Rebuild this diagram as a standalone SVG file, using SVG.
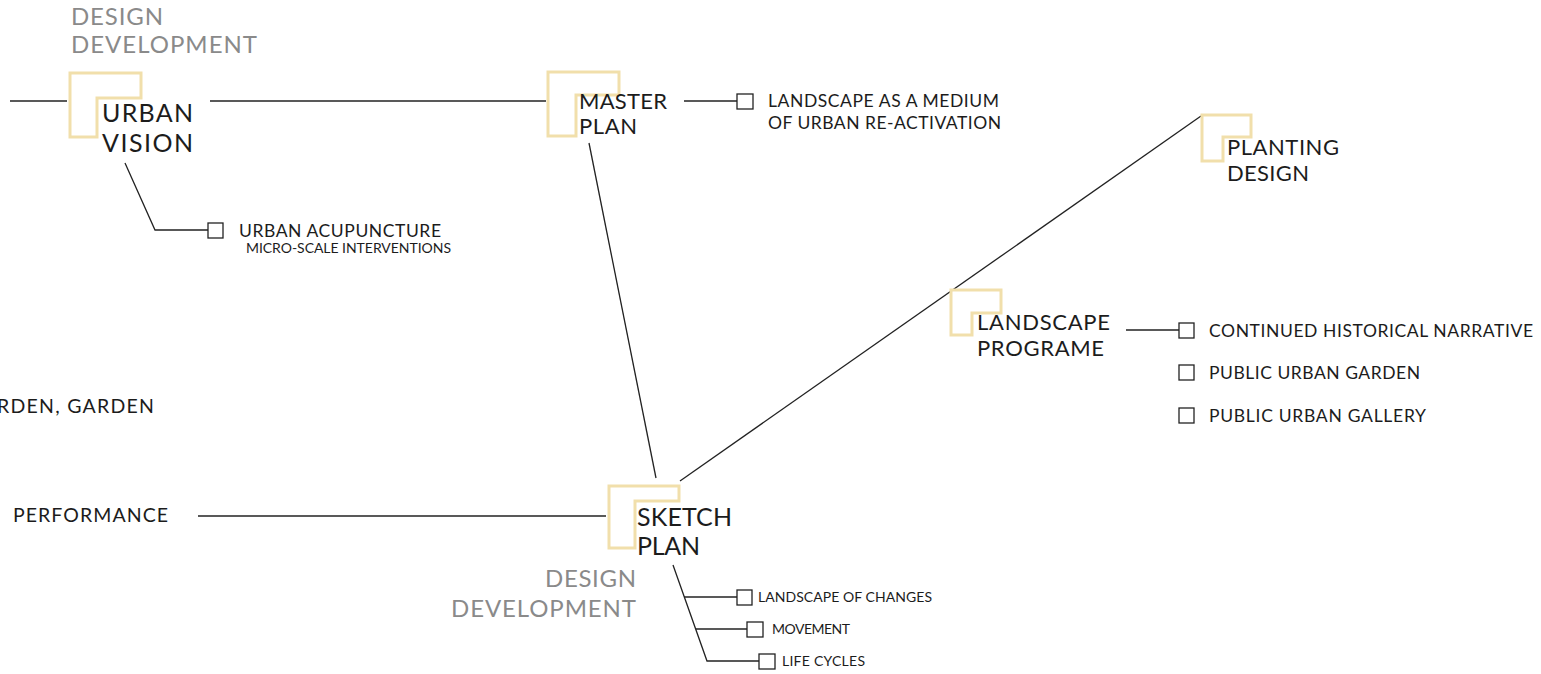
<svg xmlns="http://www.w3.org/2000/svg" width="1541" height="674" viewBox="0 0 1541 674">
  <style>
    .bg { fill: #ffffff; }
    .bracket { fill: none; stroke: #f1dfab; stroke-width: 3; stroke-linejoin: miter; }
    .wire { fill: none; stroke: #222222; stroke-width: 1.3; }
    .box { fill: #ffffff; stroke: #222222; stroke-width: 1.3; }
    text { font-family: Lato, "Open Sans", "Liberation Sans", sans-serif; font-weight: 400; fill: #1c1c1c; }
    .title { font-size: 25px; }
    .title-s { font-size: 22px; }
    .phase { font-size: 24px; fill: #8a8a8a; }
    .item { font-size: 17.5px; }
    .item-l { font-size: 19.5px; }
    .item-s { font-size: 14px; }
  </style>

  <rect class="bg" x="0" y="0" width="1541" height="674"/>

  <!-- connectors -->
  <g id="connectors">
    <line class="wire" x1="10" y1="101" x2="67" y2="101"/>
    <line class="wire" x1="210" y1="101" x2="546" y2="101"/>
    <line class="wire" x1="684" y1="101" x2="737" y2="101"/>
    <polyline class="wire" points="125,163 155,230 208,230"/>
    <line class="wire" x1="589" y1="143" x2="656" y2="478"/>
    <line class="wire" x1="680" y1="481" x2="1201" y2="116"/>
    <line class="wire" x1="1126" y1="330" x2="1179" y2="330"/>
    <line class="wire" x1="198" y1="516" x2="606" y2="516"/>
    <polyline class="wire" points="673,565 707,661 759,661"/>
    <line class="wire" x1="684" y1="597" x2="737" y2="597"/>
    <line class="wire" x1="696" y1="629" x2="747" y2="629"/>
  </g>

  <!-- phase labels -->
  <g id="phase-top">
    <text class="phase" x="71" y="25" textLength="92">DESIGN</text>
    <text class="phase" x="71" y="53" textLength="186">DEVELOPMENT</text>
  </g>
  <g id="phase-bottom">
    <text class="phase" x="545" y="587" textLength="91">DESIGN</text>
    <text class="phase" x="451" y="617" textLength="185">DEVELOPMENT</text>
  </g>

  <!-- urban vision -->
  <g id="urban-vision">
    <path class="bracket" d="M70 73 H141 V98 H97 V137 H70 Z"/>
    <text class="title" x="102" y="122" textLength="91">URBAN</text>
    <text class="title" x="102" y="152" textLength="91">VISION</text>
  </g>

  <g id="urban-acupuncture">
    <rect class="box" x="208" y="223" width="15" height="15"/>
    <text class="item" x="239" y="237" textLength="202">URBAN ACUPUNCTURE</text>
    <text class="item-s" x="246" y="253" textLength="205">MICRO-SCALE INTERVENTIONS</text>
  </g>

  <!-- master plan -->
  <g id="master-plan">
    <path class="bracket" d="M548 72 H619 V95 H576 V136 H548 Z"/>
    <text class="title-s" x="579" y="109" textLength="88">MASTER</text>
    <text class="title-s" x="579" y="134" textLength="58">PLAN</text>
  </g>

  <g id="landscape-medium">
    <rect class="box" x="737" y="94" width="16" height="15"/>
    <text class="item" x="768" y="107" textLength="231">LANDSCAPE AS A MEDIUM</text>
    <text class="item" x="768" y="129" textLength="233">OF URBAN RE-ACTIVATION</text>
  </g>

  <!-- planting design -->
  <g id="planting-design">
    <path class="bracket" d="M1202 115 H1251 V137 H1223 V161 H1202 Z"/>
    <text class="title-s" x="1227" y="155" textLength="112">PLANTING</text>
    <text class="title-s" x="1227" y="181" textLength="82">DESIGN</text>
  </g>

  <!-- landscape programe -->
  <g id="landscape-programe">
    <path class="bracket" d="M951 290 H1001 V313 H972 V335 H951 Z"/>
    <text class="title-s" x="977" y="330" textLength="133">LANDSCAPE</text>
    <text class="title-s" x="977" y="356" textLength="127">PROGRAME</text>
  </g>

  <g id="programe-items">
    <rect class="box" x="1179" y="323" width="15" height="15"/>
    <text class="item" x="1209" y="337" textLength="324">CONTINUED HISTORICAL NARRATIVE</text>
    <rect class="box" x="1179" y="365" width="15" height="15"/>
    <text class="item" x="1209" y="379" textLength="211">PUBLIC URBAN GARDEN</text>
    <rect class="box" x="1179" y="408" width="15" height="15"/>
    <text class="item" x="1209" y="422" textLength="217">PUBLIC URBAN GALLERY</text>
  </g>

  <!-- left margin labels -->
  <g id="garden">
    <text class="item-l" x="-3" y="413" textLength="157">RDEN, GARDEN</text>
  </g>
  <g id="performance">
    <text class="item-l" x="13" y="522" textLength="155">PERFORMANCE</text>
  </g>

  <!-- sketch plan -->
  <g id="sketch-plan">
    <path class="bracket" d="M609 486 H679 V501 H635 V548 H609 Z"/>
    <text class="title" x="637" y="526" textLength="95">SKETCH</text>
    <text class="title" x="637" y="555" textLength="63">PLAN</text>
  </g>

  <g id="sketch-items">
    <rect class="box" x="737" y="590" width="15" height="15"/>
    <text class="item-s" x="758" y="602" textLength="174">LANDSCAPE OF CHANGES</text>
    <rect class="box" x="747" y="622" width="16" height="15"/>
    <text class="item-s" x="772" y="634" textLength="78">MOVEMENT</text>
    <rect class="box" x="759" y="654" width="16" height="15"/>
    <text class="item-s" x="782" y="666" textLength="83">LIFE CYCLES</text>
  </g>
</svg>
